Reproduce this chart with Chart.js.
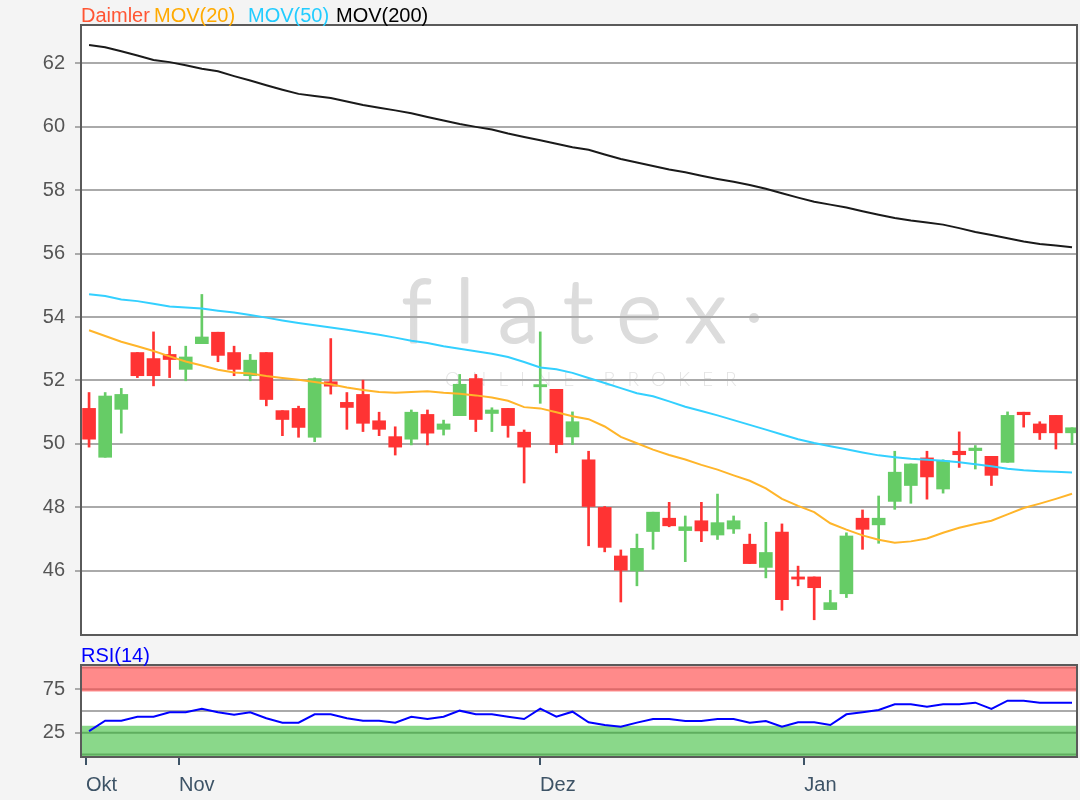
<!DOCTYPE html>
<html>
<head>
<meta charset="UTF-8" />
<script src="https://cdn.jsdelivr.net/npm/chart.js@4.4.0/dist/chart.umd.min.js"></script>
<style>
	body { margin: 0; background: #f4f4f4; }
	#wrap { position: relative; width: 1080px; height: 800px; }
	#priceChart { position: absolute; left: 0; top: 0; }
	#rsiChart { position: absolute; left: 0; top: 645px; }
</style>
</head>
<body>
<div id="wrap">
	<canvas id="priceChart" width="1080" height="645"></canvas>
	<canvas id="rsiChart" width="1080" height="155"></canvas>
</div>
<script>
// daily candles, 24 Oct .. 24 Jan (trading days)
const opens  = [51.12, 49.58, 51.09, 52.88, 52.69, 52.82, 52.35, 53.16, 53.52, 52.88,
                52.15, 52.88, 51.05, 51.12, 50.21, 51.96, 51.31, 51.56, 50.73, 50.23,
                50.15, 50.93, 50.46, 50.89, 52.06, 50.96, 51.12, 50.37, 51.80, 51.72,
                50.22, 49.50, 48.00, 46.47, 46.00, 47.24, 47.66, 47.27, 47.58, 47.13,
                47.32, 46.84, 46.11, 47.22, 45.81, 45.81, 44.78, 45.28, 47.66, 47.45,
                48.19, 48.69, 49.56, 48.58, 49.77, 49.79, 49.61, 49.42, 51.00, 50.63,
                50.90, 50.35];
const highs  = [51.62, 51.62, 51.75, 52.88, 53.53, 53.08, 53.08, 54.71, 53.52, 53.08,
                52.82, 52.88, 51.05, 51.19, 52.08, 53.32, 51.62, 52.01, 51.00, 50.54,
                51.07, 51.07, 50.75, 52.19, 52.19, 51.14, 51.12, 50.44, 53.53, 51.72,
                51.01, 49.77, 48.03, 46.66, 47.16, 47.85, 48.16, 47.73, 48.16, 48.42,
                47.73, 47.16, 47.53, 47.48, 46.15, 45.81, 45.39, 47.20, 47.92, 48.36,
                49.77, 49.37, 49.77, 49.50, 50.38, 49.95, 49.61, 51.01, 51.00, 50.70,
                50.90, 50.51];
const lows   = [49.90, 49.58, 50.34, 52.09, 51.83, 52.09, 51.99, 53.16, 52.59, 52.15,
                51.99, 51.20, 50.26, 50.21, 50.07, 51.57, 50.46, 50.39, 50.26, 49.65,
                49.97, 49.97, 50.28, 50.89, 50.39, 50.39, 50.21, 48.77, 51.28, 49.72,
                49.98, 46.79, 46.60, 45.02, 45.53, 46.68, 47.39, 46.29, 46.92, 46.99,
                47.18, 46.23, 45.78, 44.76, 45.53, 44.46, 44.78, 45.16, 46.68, 46.87,
                47.94, 48.13, 48.26, 48.45, 49.26, 49.21, 48.69, 49.42, 50.53, 50.14,
                49.84, 49.98];
const closes = [50.15, 51.51, 51.56, 52.15, 52.15, 52.66, 52.74, 53.37, 52.79, 52.35,
                52.64, 51.40, 50.77, 50.52, 52.06, 51.82, 51.15, 50.65, 50.46, 49.90,
                51.00, 50.34, 50.63, 51.88, 50.77, 51.07, 50.58, 49.90, 51.87, 49.98,
                50.70, 48.03, 46.74, 46.02, 46.71, 47.85, 47.42, 47.39, 47.26, 47.52,
                47.58, 46.23, 46.58, 45.09, 45.74, 45.47, 45.00, 47.10, 47.31, 47.66,
                49.11, 49.37, 48.96, 49.47, 49.66, 49.87, 49.01, 50.90, 50.92, 50.35,
                50.35, 50.51];

const mov20  = [53.58, 53.40, 53.22, 53.08, 52.93, 52.76, 52.60, 52.47, 52.34, 52.25,
                52.22, 52.14, 52.08, 52.02, 51.95, 51.88, 51.78, 51.70, 51.64, 51.61,
                51.64, 51.66, 51.61, 51.58, 51.53, 51.46, 51.36, 51.16, 51.12, 51.00,
                50.87, 50.78, 50.55, 50.22, 50.02, 49.82, 49.65, 49.51, 49.34, 49.19,
                49.01, 48.84, 48.60, 48.27, 48.05, 47.85, 47.50, 47.30, 47.12, 46.98,
                46.89, 46.93, 47.02, 47.20, 47.36, 47.48, 47.58, 47.78, 47.98, 48.12,
                48.27, 48.43];
const mov50  = [54.72, 54.66, 54.55, 54.50, 54.42, 54.33, 54.30, 54.27, 54.20, 54.14,
                54.06, 53.98, 53.89, 53.81, 53.74, 53.67, 53.60, 53.52, 53.44, 53.35,
                53.25, 53.18, 53.08, 53.00, 52.92, 52.84, 52.74, 52.58, 52.41, 52.35,
                52.24, 52.08, 51.92, 51.76, 51.60, 51.50, 51.34, 51.17, 51.04, 50.90,
                50.75, 50.60, 50.45, 50.30, 50.15, 50.03, 49.93, 49.83, 49.73, 49.64,
                49.58, 49.53, 49.50, 49.47, 49.42, 49.36, 49.30, 49.22, 49.17, 49.14,
                49.12, 49.10];
const mov200 = [62.57, 62.50, 62.37, 62.24, 62.10, 62.03, 61.93, 61.82, 61.74, 61.59,
                61.45, 61.30, 61.16, 61.03, 60.96, 60.90, 60.79, 60.68, 60.59, 60.51,
                60.42, 60.30, 60.19, 60.08, 59.99, 59.91, 59.78, 59.67, 59.57, 59.46,
                59.35, 59.27, 59.12, 58.98, 58.87, 58.76, 58.65, 58.56, 58.45, 58.35,
                58.26, 58.16, 58.04, 57.90, 57.76, 57.63, 57.54, 57.45, 57.33, 57.22,
                57.12, 57.04, 56.98, 56.91, 56.80, 56.68, 56.58, 56.48, 56.38, 56.30,
                56.25, 56.20];
const rsi14  = [26.9, 38.8, 38.8, 43.4, 43.4, 48.5, 48.5, 52.7, 48.5, 45.8,
                48.5, 41.6, 36.6, 36.6, 46.2, 46.2, 41.6, 38.8, 38.8, 36.6,
                43.4, 40.8, 43.4, 50.4, 46.2, 46.2, 43.4, 40.8, 52.7, 43.4,
                49.2, 37.0, 33.9, 31.9, 36.6, 40.8, 40.8, 38.5, 38.5, 40.8,
                40.8, 36.6, 38.5, 31.9, 37.0, 37.0, 33.9, 46.2, 48.5, 51.1,
                57.7, 57.7, 55.0, 57.7, 57.7, 59.6, 52.3, 61.9, 61.9, 59.6,
                59.6, 59.6];

const priceTicks = [46, 48, 50, 52, 54, 56, 58, 60, 62];
const rsiTicks = [25, 75];
const monthTicks = [-0.19, 5.58, 27.99, 44.39];
const monthLabels = ["Okt", "Nov", "Dez", "Jan"];
const rsiZones = { upper: [72.5, 101], lower: [-2.5, 33], lines: [0, 25, 75, 100], mid: 50 };

const UP = "#66cc66", DOWN = "#ff3333";
const FONT = "'Liberation Sans', Arial, sans-serif";
Chart.defaults.font.family = FONT;
Chart.defaults.font.size = 20;

const xRange = { min: -0.5, max: 61.31 };

function fillArea(chart) {
	const { ctx, chartArea: a } = chart;
	ctx.save();
	ctx.fillStyle = "#ffffff";
	ctx.fillRect(a.left, a.top, a.right - a.left, a.bottom - a.top);
	ctx.restore();
}
function frame(chart) {
	const { ctx, chartArea: a } = chart;
	ctx.save();
	ctx.strokeStyle = "#5a5a5a";
	ctx.lineWidth = 2;
	ctx.strokeRect(a.left, a.top, a.right - a.left, a.bottom - a.top);
	ctx.restore();
}
function noLabelPad(s) {
	s.paddingTop = 0;
	s.paddingBottom = 0;
}

const priceDecor = {
	id: "priceDecor",
	beforeDraw(chart) {
		fillArea(chart);
		const ctx = chart.ctx;
		ctx.save();
		// watermark
		ctx.fillStyle = "#dcdcdc";
		ctx.strokeStyle = "#dcdcdc";
		ctx.lineWidth = 3;
		ctx.lineJoin = "round";
		ctx.font = "300 86px Lato";
		ctx.textBaseline = "alphabetic";
		ctx.letterSpacing = "24px";
		ctx.fillText("flatex", 402, 342);
		ctx.strokeText("flatex", 402, 342);
		ctx.beginPath();
		ctx.arc(754, 318, 5, 0, Math.PI * 2);
		ctx.fill();
		ctx.fillStyle = "#e4e4e4";
		ctx.font = "300 19px Lato";
		ctx.letterSpacing = "12px";
		ctx.fillText("ONLINE BROKER", 445, 386);
		ctx.restore();
	},
	afterDraw(chart) {
		frame(chart);
		const ctx = chart.ctx;
		ctx.save();
		ctx.font = "20px " + FONT;
		ctx.textBaseline = "alphabetic";
		[["Daimler", "#ff5533", 81], ["MOV(20)", "#ffaa00", 154], ["MOV(50)", "#22ccff", 248], ["MOV(200)", "#000000", 336]].forEach(([t, c, x]) => {
			ctx.fillStyle = c;
			ctx.fillText(t, x, 21.5);
		});
		ctx.restore();
	}
};

const idx = opens.map((_, i) => i);

new Chart(document.getElementById("priceChart"), {
	type: "bar",
	data: {
		datasets: [
			{ type: "line", label: "MOV(200)", data: idx.map(i => ({ x: i, y: mov200[i] })), borderColor: "#1a1a1a", borderWidth: 2, pointRadius: 0, order: 0 },
			{ type: "line", label: "MOV(50)", data: idx.map(i => ({ x: i, y: mov50[i] })), borderColor: "#33d0ff", borderWidth: 2, pointRadius: 0, order: 0 },
			{ type: "line", label: "MOV(20)", data: idx.map(i => ({ x: i, y: mov20[i] })), borderColor: "#ffb52a", borderWidth: 2, pointRadius: 0, order: 0 },
			{
				label: "body", data: idx.map(i => ({ x: i, y: [opens[i], closes[i]] })),
				backgroundColor: c => closes[c.dataIndex] >= opens[c.dataIndex] ? UP : DOWN,
				barThickness: 13, grouped: false, borderWidth: 0, order: 1
			},
			{
				label: "wick", data: idx.map(i => ({ x: i, y: [lows[i], highs[i]] })),
				backgroundColor: c => closes[c.dataIndex] >= opens[c.dataIndex] ? UP : DOWN,
				barThickness: 2, grouped: false, borderWidth: 0, order: 2
			}
		]
	},
	options: {
		responsive: false,
		animation: false,
		devicePixelRatio: 1,
		layout: { padding: { top: 25, right: 3, bottom: 10, left: 0 } },
		plugins: { legend: { display: false }, tooltip: { enabled: false } },
		scales: {
			x: { type: "linear", min: xRange.min, max: xRange.max, offset: false, display: false },
			y: {
				min: 43.98, max: 63.2,
				afterBuildTicks: s => { s.ticks = priceTicks.map(v => ({ value: v })); },
				afterFit: s => { s.width = 81; noLabelPad(s); },
				grid: { color: "#aaaaaa", lineWidth: 2, tickLength: 6 },
				border: { display: false },
				ticks: { color: "#555555", padding: 10, font: { size: 20 } }
			}
		}
	},
	plugins: [priceDecor]
});

const rsiDecor = {
	id: "rsiDecor",
	beforeDraw(chart) {
		fillArea(chart);
	},
	beforeDatasetsDraw(chart) {
		const { ctx, chartArea: a, scales: { y } } = chart;
		const w = a.right - a.left;
		ctx.save();
		ctx.fillStyle = "#ff8a8a";
		ctx.fillRect(a.left, y.getPixelForValue(rsiZones.upper[1]), w, y.getPixelForValue(rsiZones.upper[0]) - y.getPixelForValue(rsiZones.upper[1]));
		ctx.fillStyle = "#8ad88a";
		ctx.fillRect(a.left, y.getPixelForValue(rsiZones.lower[1]), w, y.getPixelForValue(rsiZones.lower[0]) - y.getPixelForValue(rsiZones.lower[1]));
		ctx.lineWidth = 2;
		rsiZones.lines.forEach(v => {
			ctx.strokeStyle = v > 50 ? "#dd6a6a" : "#5fae5f";
			const py = y.getPixelForValue(v);
			ctx.beginPath(); ctx.moveTo(a.left, py); ctx.lineTo(a.right, py); ctx.stroke();
		});
		ctx.strokeStyle = "#aaaaaa";
		const my = y.getPixelForValue(rsiZones.mid);
		ctx.beginPath(); ctx.moveTo(a.left, my); ctx.lineTo(a.right, my); ctx.stroke();
		ctx.restore();
	},
	afterDraw(chart) {
		frame(chart);
		const ctx = chart.ctx;
		ctx.save();
		ctx.font = "20px " + FONT;
		ctx.fillStyle = "#0000ff";
		ctx.fillText("RSI(14)", 81, 16.5);
		ctx.restore();
	}
};

new Chart(document.getElementById("rsiChart"), {
	type: "line",
	data: {
		datasets: [
			{ label: "RSI(14)", data: idx.map(i => ({ x: i, y: rsi14[i] })), borderColor: "#0000ff", borderWidth: 2, pointRadius: 0, tension: 0 }
		]
	},
	options: {
		responsive: false,
		animation: false,
		devicePixelRatio: 1,
		layout: { padding: { top: 20, right: 3, bottom: 0, left: 0 } },
		plugins: { legend: { display: false }, tooltip: { enabled: false } },
		scales: {
			x: {
				type: "linear", min: xRange.min, max: xRange.max, offset: false,
				afterBuildTicks: s => { s.ticks = monthTicks.map(v => ({ value: v })); },
				afterFit: s => { s.height = 43; },
				grid: { drawOnChartArea: false, drawTicks: true, tickLength: 8, color: "#3d5366", lineWidth: 2 },
				border: { display: false },
				ticks: { color: "#3d5366", align: "start", autoSkip: false, maxRotation: 0, padding: 8, font: { size: 20 }, callback: (v, i) => monthLabels[i] }
			},
			y: {
				min: -3, max: 103,
				afterBuildTicks: s => { s.ticks = rsiTicks.map(v => ({ value: v })); },
				afterFit: s => { s.width = 81; noLabelPad(s); },
				grid: { drawOnChartArea: false, color: "#aaaaaa", lineWidth: 2, tickLength: 6 },
				border: { display: false },
				ticks: { color: "#555555", padding: 10, font: { size: 20 } }
			}
		}
	},
	plugins: [rsiDecor]
});
</script>
</body>
</html>
